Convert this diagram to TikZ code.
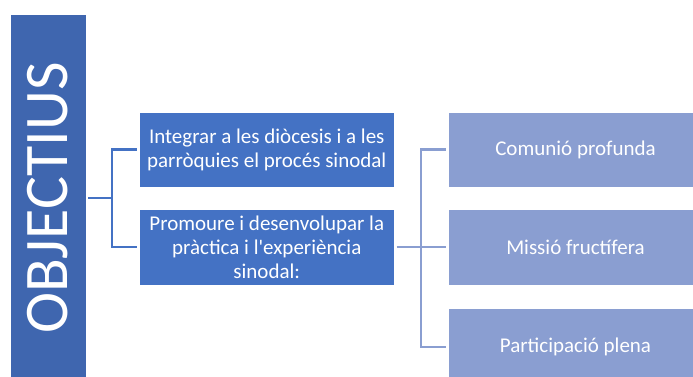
\documentclass[tikz,border=0pt]{standalone}
\usepackage{fontspec}
\setmainfont{Carlito}[Ligatures=TeXOff]
\definecolor{objblue}{HTML}{3F66AF}
\definecolor{midblue}{HTML}{4472C4}
\definecolor{lightblue}{HTML}{8A9ED1}
\begin{document}
\begin{tikzpicture}[x=1pt,y=1pt,
  boxbase/.style={rectangle,draw=white,line width=0.8pt,inner sep=0pt,text=white,align=center},
  midbox/.style={boxbase,fill=midblue,minimum width=255,font=\fontsize{21}{24}\selectfont},
  rightbox/.style={boxbase,fill=lightblue,minimum width=255,font=\fontsize{21}{24}\selectfont},
  leftlink/.style={draw=midblue,line width=2.5pt},
  rightlink/.style={draw=lightblue,line width=2.5pt}]
\useasboundingbox (0,0) rectangle (693,376);
\begin{scope}
\clip (0,0) rectangle (693,376);
\node[boxbase,fill=objblue,rotate=90,minimum width=368,minimum height=76,font=\fontsize{62}{62}\selectfont] (obj) at (48,178) {OBJECTIUS};
\node[midbox,minimum height=75] (m1) at (266.75,226.5) {Integrar a les diòcesis i a les\\parròquies el procés sinodal};
\node[midbox,minimum height=76] (m2) at (266.75,129) {Promoure i desenvolupar la\\pràctica i l'experiència\\sinodal:};
\node[rightbox,minimum height=75] (r1) at (575.5,226.5) {Comunió profunda};
\node[rightbox,minimum height=76] (r2) at (575.5,129) {Missió fructífera};
\node[rightbox,minimum height=78] (r3) at (575.5,29) {Participació plena};
\end{scope}
\coordinate (j1) at (112,178);
\coordinate (j2) at (421,129);
\draw[leftlink,shorten <=2pt] (obj.south) -- (j1);
\draw[leftlink,shorten >=2pt] (j1) |- (m1.west);
\draw[leftlink,shorten >=2pt] (j1) |- (m2.west);
\draw[rightlink,shorten <=2pt] (m2.east) -- (j2);
\draw[rightlink,shorten >=2pt] (j2) |- (r1.west);
\draw[rightlink,shorten >=2pt] (j2) -- (r2.west);
\draw[rightlink,shorten >=2pt] (j2) |- (r3.west);
\end{tikzpicture}
\end{document}
